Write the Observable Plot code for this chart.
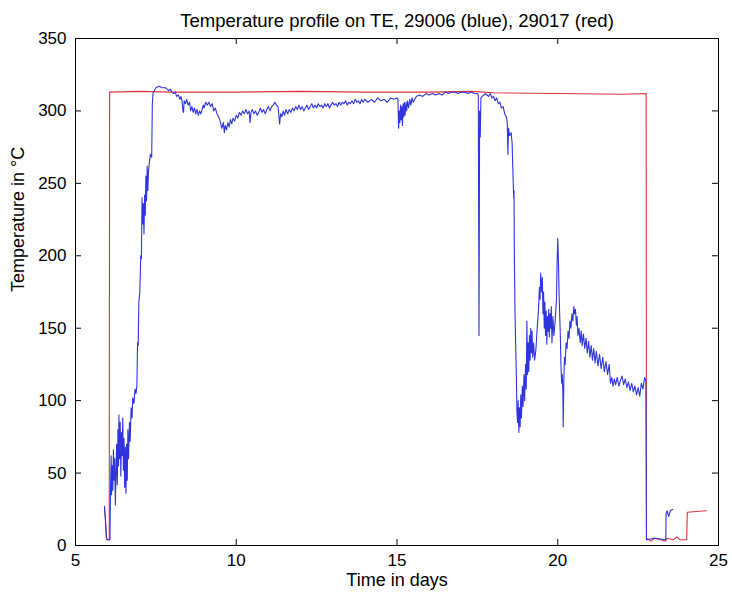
<!DOCTYPE html>
<html>
<head>
<meta charset="utf-8">
<script src="https://cdn.jsdelivr.net/npm/d3@7"></script>
<script src="https://cdn.jsdelivr.net/npm/@observablehq/plot@0.6"></script>
<style>
  html, body { margin: 0; padding: 0; background: #fff; }
  #chart svg { display: block; }
</style>
</head>
<body>
<div id="chart"></div>
<script>
// Thermocouple TE temperature traces, [time in days, temperature in °C]
const trace29006 = [
  [5.90, 27], [5.93, 18], [5.96, 6], [5.98, 4], [6.07, 4], [6.09, 40], [6.11, 62], [6.12, 35],
  [6.14, 55], [6.16, 38], [6.18, 66], [6.20, 45], [6.22, 60], [6.24, 28], [6.26, 50], [6.28, 70],
  [6.30, 42], [6.32, 80], [6.34, 55], [6.35, 90], [6.37, 60], [6.39, 85], [6.41, 48], [6.43, 78],
  [6.45, 62], [6.47, 88], [6.49, 52], [6.51, 74], [6.53, 40], [6.55, 68], [6.57, 36], [6.59, 70],
  [6.61, 45], [6.63, 80], [6.65, 60], [6.68, 85], [6.70, 72], [6.73, 95], [6.76, 88], [6.78, 102],
  [6.82, 98], [6.85, 108], [6.88, 105], [6.91, 110], [6.93, 140], [6.95, 138], [6.97, 168], [7.00, 175],
  [7.03, 200], [7.05, 198], [7.07, 240], [7.09, 222], [7.11, 236], [7.13, 215], [7.15, 242], [7.17, 228],
  [7.19, 255], [7.21, 238], [7.23, 262], [7.25, 245], [7.27, 258], [7.30, 265], [7.33, 270], [7.37, 268],
  [7.39, 305], [7.41, 312], [7.45, 314], [7.50, 316], [7.60, 317], [7.70, 316], [7.80, 316], [7.85, 315],
  [7.90, 314], [7.95, 315], [8.00, 313], [8.05, 312], [8.10, 313], [8.15, 310], [8.20, 311], [8.25, 308],
  [8.28, 310], [8.32, 306], [8.34, 300], [8.36, 299], [8.38, 307], [8.42, 305], [8.46, 308], [8.50, 304],
  [8.55, 306], [8.58, 300], [8.62, 303], [8.66, 299], [8.70, 302], [8.74, 298], [8.78, 301], [8.82, 297],
  [8.86, 300], [8.90, 298], [8.94, 301], [8.97, 304], [9.00, 302], [9.05, 306], [9.10, 304], [9.15, 306],
  [9.20, 303], [9.25, 305], [9.30, 300], [9.35, 302], [9.40, 298], [9.45, 296], [9.50, 293], [9.55, 288],
  [9.60, 292], [9.63, 285], [9.66, 290], [9.70, 287], [9.74, 292], [9.78, 289], [9.82, 294], [9.86, 291],
  [9.90, 295], [9.95, 293], [10.00, 297], [10.05, 295], [10.10, 299], [10.15, 297], [10.20, 300], [10.25, 298],
  [10.30, 301], [10.35, 298], [10.40, 300], [10.43, 292], [10.46, 299], [10.50, 301], [10.55, 298], [10.60, 300],
  [10.65, 297], [10.70, 299], [10.75, 302], [10.80, 299], [10.85, 301], [10.90, 298], [10.95, 301], [11.00, 303],
  [11.05, 300], [11.10, 303], [11.15, 304], [11.20, 306], [11.25, 304], [11.30, 303], [11.35, 291], [11.38, 298],
  [11.42, 296], [11.46, 300], [11.50, 297], [11.55, 301], [11.60, 298], [11.65, 301], [11.70, 299], [11.75, 302],
  [11.80, 300], [11.85, 303], [11.90, 301], [11.95, 304], [12.00, 301], [12.05, 303], [12.10, 300], [12.15, 302],
  [12.20, 304], [12.25, 301], [12.30, 303], [12.35, 305], [12.40, 302], [12.45, 304], [12.50, 302], [12.55, 305],
  [12.60, 303], [12.65, 304], [12.70, 302], [12.75, 305], [12.80, 303], [12.85, 305], [12.90, 302], [12.95, 304],
  [13.00, 306], [13.05, 304], [13.10, 305], [13.15, 303], [13.20, 306], [13.25, 304], [13.30, 306], [13.35, 305],
  [13.40, 307], [13.45, 304], [13.50, 306], [13.55, 305], [13.60, 307], [13.65, 305], [13.70, 308], [13.75, 306],
  [13.80, 307], [13.85, 305], [13.90, 308], [13.95, 306], [14.00, 308], [14.10, 306], [14.20, 308], [14.30, 306],
  [14.40, 309], [14.50, 307], [14.60, 308], [14.70, 306], [14.80, 309], [14.90, 308], [15.00, 309], [15.03, 308],
  [15.05, 288], [15.07, 300], [15.09, 292], [15.11, 304], [15.13, 294], [15.15, 303], [15.17, 290], [15.19, 305],
  [15.21, 296], [15.23, 306], [15.25, 297], [15.28, 306], [15.30, 300], [15.33, 307], [15.36, 302], [15.40, 308],
  [15.43, 304], [15.47, 309], [15.50, 306], [15.55, 308], [15.60, 310], [15.70, 311], [15.80, 310], [15.90, 312],
  [16.00, 311], [16.10, 312], [16.20, 311], [16.30, 312], [16.40, 311], [16.50, 313], [16.60, 312], [16.70, 313],
  [16.80, 313], [16.90, 312], [17.00, 313], [17.10, 313], [17.20, 312], [17.30, 313], [17.40, 312], [17.50, 312],
  [17.53, 311], [17.55, 145], [17.57, 300], [17.59, 282], [17.61, 309], [17.65, 310], [17.70, 311], [17.75, 312],
  [17.80, 311], [17.85, 310], [17.90, 312], [17.95, 309], [18.00, 310], [18.05, 307], [18.10, 309], [18.15, 305],
  [18.20, 306], [18.25, 302], [18.30, 303], [18.35, 298], [18.40, 296], [18.43, 292], [18.45, 270], [18.47, 288],
  [18.50, 283], [18.55, 285], [18.58, 278], [18.60, 262], [18.62, 247], [18.63, 240], [18.64, 245], [18.65, 200],
  [18.67, 162], [18.69, 140], [18.71, 120], [18.73, 93], [18.75, 85], [18.77, 100], [18.79, 78], [18.81, 95],
  [18.83, 82], [18.85, 104], [18.87, 88], [18.90, 110], [18.92, 96], [18.95, 118], [18.97, 100], [19.00, 125],
  [19.02, 108], [19.04, 155], [19.06, 118], [19.08, 140], [19.10, 120], [19.12, 145], [19.14, 128], [19.16, 150],
  [19.18, 133], [19.20, 148], [19.22, 130], [19.25, 140], [19.28, 128], [19.32, 135], [19.36, 150], [19.40, 162],
  [19.43, 178], [19.45, 170], [19.47, 188], [19.50, 175], [19.52, 185], [19.54, 160], [19.56, 175], [19.58, 150],
  [19.60, 168], [19.62, 145], [19.64, 162], [19.66, 139], [19.68, 158], [19.70, 148], [19.72, 163], [19.74, 144],
  [19.76, 160], [19.78, 150], [19.80, 165], [19.82, 140], [19.85, 158], [19.88, 145], [19.92, 155], [19.96, 170],
  [19.98, 195], [20.00, 212], [20.02, 198], [20.04, 175], [20.06, 160], [20.08, 145], [20.10, 125], [20.12, 112],
  [20.14, 118], [20.16, 105], [20.17, 82], [20.19, 115], [20.21, 130], [20.23, 125], [20.26, 140], [20.29, 136],
  [20.32, 148], [20.35, 143], [20.38, 155], [20.41, 150], [20.44, 160], [20.47, 155], [20.50, 165], [20.52, 160],
  [20.55, 163], [20.58, 152], [20.60, 158], [20.63, 145], [20.66, 150], [20.70, 140], [20.73, 148], [20.76, 138],
  [20.80, 146], [20.84, 136], [20.88, 143], [20.92, 133], [20.96, 141], [21.00, 130], [21.04, 138], [21.08, 128],
  [21.12, 136], [21.16, 126], [21.20, 134], [21.25, 124], [21.30, 132], [21.35, 122], [21.40, 130], [21.45, 120],
  [21.50, 127], [21.55, 118], [21.60, 125], [21.64, 112], [21.68, 116], [21.72, 110], [21.76, 115], [21.80, 111],
  [21.85, 116], [21.90, 110], [21.95, 114], [22.00, 117], [22.05, 111], [22.10, 115], [22.15, 109], [22.20, 113],
  [22.25, 107], [22.30, 112], [22.35, 106], [22.40, 110], [22.45, 104], [22.50, 109], [22.55, 103], [22.60, 112],
  [22.65, 108], [22.70, 116], [22.74, 114], [22.76, 4], [23.00, 5], [23.36, 4], [23.37, 22], [23.40, 24],
  [23.45, 20], [23.50, 24], [23.58, 25]
];

const trace29017 = [
  [5.90, 27], [5.93, 18], [5.96, 6], [5.98, 4], [6.05, 4], [6.06, 313], [7.00, 313.5], [8.00, 313],
  [10.00, 313], [12.00, 313.5], [14.00, 313], [16.00, 313], [17.30, 313.5], [18.00, 312.5], [20.00, 312],
  [22.00, 311.5], [22.75, 312], [22.76, 5], [22.90, 3], [23.00, 5], [23.20, 4], [23.35, 3], [23.40, 5],
  [23.60, 4], [23.70, 6], [23.80, 4], [24.01, 4], [24.03, 23], [24.30, 23.5], [24.62, 24]
];

const xTicks = [5, 10, 15, 20, 25];
const yTicks = [0, 50, 100, 150, 200, 250, 300, 350];

const titleText = "Temperature profile on TE, 29006 (blue), 29017 (red)";
const xLabel = "Time in days";
const yLabel = "Temperature in °C";

const font = "'Liberation Sans', Arial, Helvetica, sans-serif";
const W = 732, H = 599;
const mL = 75, mR = 14, mT = 38, mB = 54;
const tickLen = 6;
const frameW = W - mL - mR, frameH = H - mT - mB;

const chart = Plot.plot({
  width: W,
  height: H,
  marginLeft: mL,
  marginRight: mR,
  marginTop: mT,
  marginBottom: mB,
  style: { fontFamily: font, fontSize: "17px", color: "#000", background: "#fff" },
  x: { domain: [5, 25], label: null },
  y: { domain: [0, 350], label: null },
  marks: [
    Plot.line(trace29017, { x: d => d[0], y: d => d[1], stroke: "#e0323c", strokeWidth: 1.1 }),
    Plot.line(trace29006, { x: d => d[0], y: d => d[1], stroke: "#2f34dc", strokeWidth: 1.1 }),
    Plot.frame({ stroke: "#000", strokeWidth: 1 }),
    // short inward tick marks on all four sides of the box
    Plot.tickX(xTicks, { x: d => d, insetTop: frameH - tickLen, stroke: "#000" }),
    Plot.tickX(xTicks, { x: d => d, insetBottom: frameH - tickLen, stroke: "#000" }),
    Plot.tickY(yTicks, { y: d => d, insetRight: frameW - tickLen, stroke: "#000" }),
    Plot.tickY(yTicks, { y: d => d, insetLeft: frameW - tickLen, stroke: "#000" }),
    // tick labels
    Plot.axisX(xTicks, { anchor: "bottom", tickSize: 0, tickPadding: 8, fontSize: 17, label: null }),
    Plot.axisY(yTicks, { anchor: "left", tickSize: 0, tickPadding: 9, fontSize: 17, label: null }),
    // title and axis titles
    Plot.text([titleText], { frameAnchor: "top", dy: -25, fontSize: 18.5, fill: "#000" }),
    Plot.text([xLabel], { frameAnchor: "bottom", dy: 40, fontSize: 18, fill: "#000" }),
    Plot.text([yLabel], { frameAnchor: "left", dx: -57, rotate: -90, fontSize: 18, fill: "#000" })
  ]
});

document.getElementById("chart").append(chart);
</script>
</body>
</html>
